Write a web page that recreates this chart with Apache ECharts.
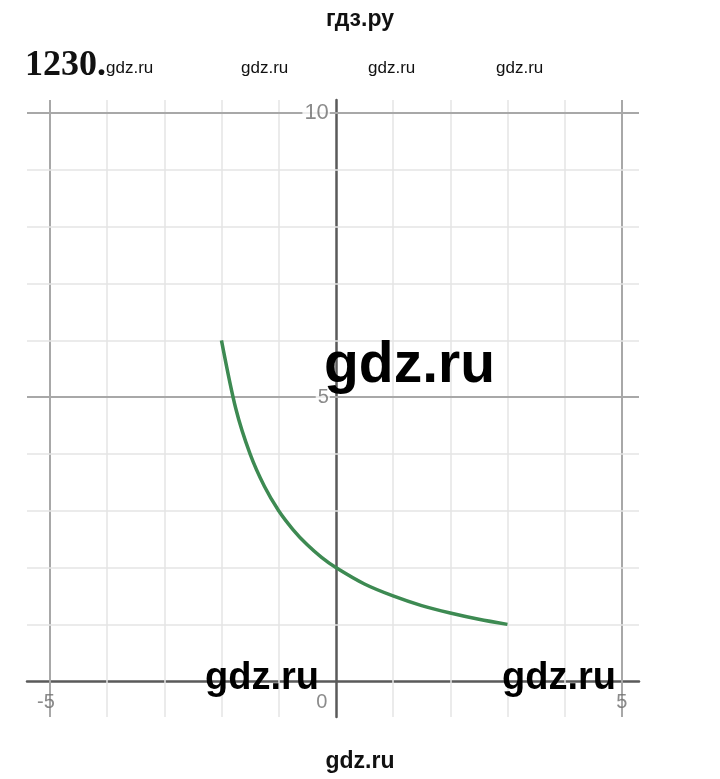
<!DOCTYPE html>
<html><head><meta charset="utf-8">
<script src="https://cdn.jsdelivr.net/npm/echarts@6/dist/echarts.min.js"></script>
<style>html,body{margin:0;padding:0;background:#fff}#c{width:720px;height:779px}</style>
</head><body><div id="c"></div>
<script>
var curveX = [-2, -1.75, -1.5, -1.25, -1, -0.75, -0.5, -0.25, 0, 0.5, 1, 1.5, 2, 2.5, 3];
var curveY = [6, 4.8, 4, 3.43, 3, 2.67, 2.4, 2.18, 2, 1.71, 1.5, 1.33, 1.2, 1.09, 1];
var gridX = [-5, -4, -3, -2, -1, 1, 2, 3, 4, 5];
var gridY = [1, 2, 3, 4, 5, 6, 7, 8, 9, 10];
var majorX = [-5, 5];
var majorY = [5, 10];
var xTickLabels = [-5, 0, 5];
var yTickLabels = [5, 10];

var chart = echarts.init(document.getElementById('c'));
var lines = [];
gridX.forEach(function (v) {
  var major = majorX.indexOf(v) >= 0;
  lines.push({ xAxis: v, lineStyle: { color: major ? '#a8a8a8' : '#e4e4e4', width: major ? 2 : 1.5, type: 'solid' } });
});
gridY.forEach(function (v) {
  var major = majorY.indexOf(v) >= 0;
  lines.push({ yAxis: v, lineStyle: { color: major ? '#a8a8a8' : '#e4e4e4', width: major ? 2 : 1.5, type: 'solid' } });
});
var pts = curveX.map(function (x, i) { return [x, curveY[i]]; });

var labelFont = { color: '#6e6e6e', fontSize: 20, fontFamily: 'Liberation Sans' };
var xLabelItems = xTickLabels.map(function (v) {
  var dx = v === 0 ? -14 : (v < 0 ? -4 : 0);
  return { value: [v, 0], label: { offset: [dx, 0] } };
});
var yLabelItems = yTickLabels.map(function (v) {
  return { value: [0, v], label: { fontSize: v === 10 ? 22 : 20 } };
});

chart.setOption({
  animation: false,
  backgroundColor: '#fff',
  grid: { left: 27, right: 81, top: 100, bottom: 62 },
  xAxis: {
    type: 'value', min: -5.4, max: 5.3,
    splitLine: { show: false },
    axisLine: { onZero: true, lineStyle: { color: '#5a5a5a', width: 2.5 } },
    axisTick: { show: false },
    axisLabel: { show: false }
  },
  yAxis: {
    type: 'value', min: -0.63, max: 10.23,
    splitLine: { show: false },
    axisLine: { onZero: true, lineStyle: { color: '#5a5a5a', width: 2.5 } },
    axisTick: { show: false },
    axisLabel: { show: false }
  },
  series: [
    {
      type: 'line', data: [], silent: true, z: 1,
      markLine: { silent: true, symbol: 'none', label: { show: false }, animation: false, data: lines }
    },
    {
      type: 'line', data: pts, smooth: 0.3, showSymbol: false, z: 5,
      lineStyle: { color: '#3d8a52', width: 3.5 }
    },
    {
      type: 'scatter', data: xLabelItems, symbolSize: 0, silent: true, z: 6,
      label: Object.assign({ show: true, position: 'bottom', distance: 11, formatter: function (p) { return String(p.value[0]); } }, labelFont)
    },
    {
      type: 'scatter', data: yLabelItems, symbolSize: 0, silent: true, z: 6,
      label: Object.assign({ show: true, position: 'left', distance: 6, backgroundColor: '#fff', padding: [0, 1, 0, 2], formatter: function (p) { return String(p.value[1]); } }, labelFont)
    }
  ],
  graphic: [
    { type: 'text', left: 'center', top: 8, style: { text: 'гдз.ру', font: 'bold 23px "Liberation Sans", Arial', fill: '#111' } },
    { type: 'text', left: 25, top: 48, style: { text: '1230.', font: 'bold 36px "Liberation Serif", "DejaVu Serif", serif', fill: '#111' } },
    { type: 'text', left: 106, top: 60, style: { text: 'gdz.ru', font: '17px "Liberation Sans Narrow", "Liberation Sans", Arial', fill: '#111' } },
    { type: 'text', left: 241, top: 60, style: { text: 'gdz.ru', font: '17px "Liberation Sans Narrow", "Liberation Sans", Arial', fill: '#111' } },
    { type: 'text', left: 368, top: 60, style: { text: 'gdz.ru', font: '17px "Liberation Sans Narrow", "Liberation Sans", Arial', fill: '#111' } },
    { type: 'text', left: 496, top: 60, style: { text: 'gdz.ru', font: '17px "Liberation Sans Narrow", "Liberation Sans", Arial', fill: '#111' } },
    { type: 'text', left: 324, top: 338, z: 100, style: { text: 'gdz.ru', font: 'bold 57px "Liberation Sans", Arial', fill: '#000' } },
    { type: 'text', left: 205, top: 660, z: 100, style: { text: 'gdz.ru', font: 'bold 38px "Liberation Sans", Arial', fill: '#000' } },
    { type: 'text', left: 502, top: 660, z: 100, style: { text: 'gdz.ru', font: 'bold 38px "Liberation Sans", Arial', fill: '#000' } },
    { type: 'text', left: 'center', top: 750, style: { text: 'gdz.ru', font: 'bold 23px "Liberation Sans", Arial', fill: '#111' } }
  ]
});
</script></body></html>
